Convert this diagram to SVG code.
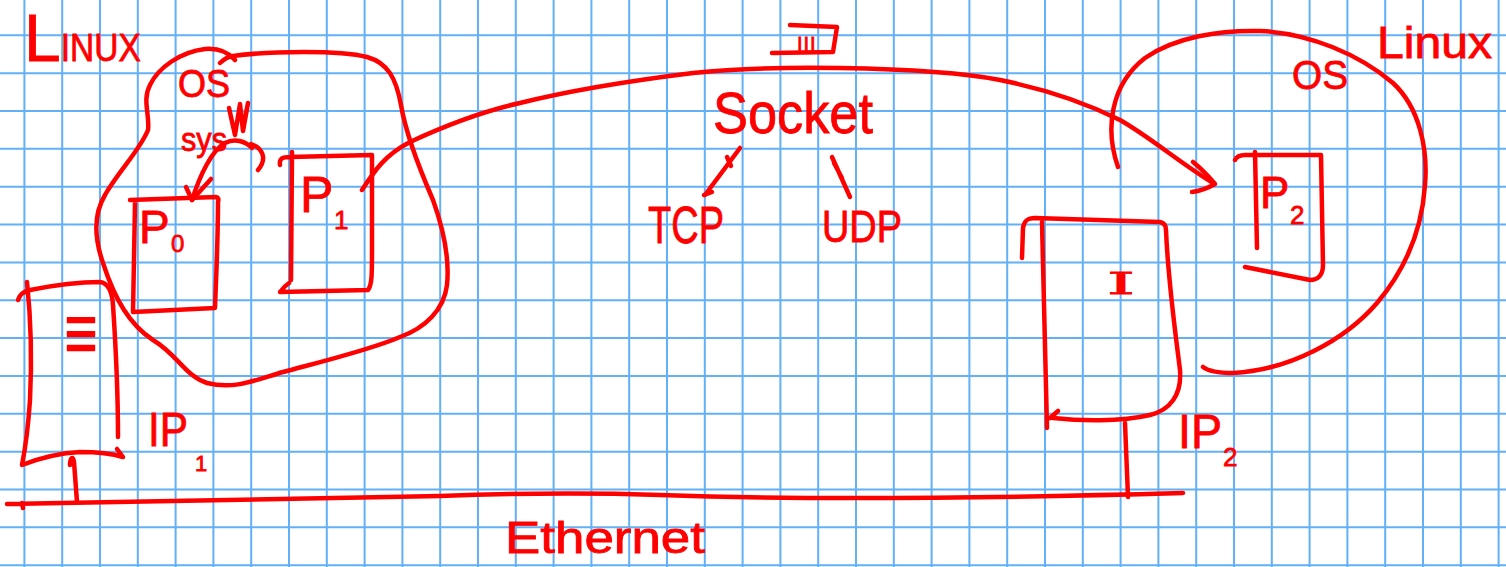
<svg xmlns="http://www.w3.org/2000/svg" width="1506" height="567" viewBox="0 0 1506 567">
<style>
.grid{stroke:#62b0f8;stroke-width:2;fill:none}
.ink{stroke:#ff0000;stroke-width:4.5;fill:none;stroke-linecap:round;stroke-linejoin:round}
.t{fill:#ff0000;stroke:#ff0000;stroke-width:0.8;font-family:"Liberation Sans",Arial,sans-serif}
</style>
<rect width="1506" height="567" fill="#ffffff"/>
<g id="grid">
<path class="grid" d="M24.4 0V567M62.2 0V567M100 0V567M137.8 0V567M175.6 0V567M213.4 0V567M251.2 0V567M289 0V567M326.8 0V567M364.6 0V567M402.4 0V567M440.2 0V567M478 0V567M515.8 0V567M553.6 0V567M591.4 0V567M629.2 0V567M667 0V567M704.8 0V567M742.6 0V567M780.4 0V567M818.2 0V567M856 0V567M893.8 0V567M931.6 0V567M969.4 0V567M1007.2 0V567M1045 0V567M1082.8 0V567M1120.6 0V567M1158.4 0V567M1196.2 0V567M1234 0V567M1271.8 0V567M1309.6 0V567M1347.4 0V567M1385.2 0V567M1423 0V567M1460.8 0V567M1498.6 0V567"/>
<path class="grid" d="M0 35.3H1506M0 73.15H1506M0 111H1506M0 148.85H1506M0 186.7H1506M0 224.55H1506M0 262.4H1506M0 300.25H1506M0 338.1H1506M0 375.95H1506M0 413.8H1506M0 451.65H1506M0 489.5H1506M0 527.35H1506M0 565.2H1506"/>
</g>

<g id="linux-left">
<text class="t" x="24" y="61"><tspan font-size="66">L</tspan><tspan font-size="38" textLength="80" lengthAdjust="spacingAndGlyphs">INUX</tspan></text>
</g>

<g id="os-left">
<path class="ink" d="M220,63 Q226,57 233,56 C270,51 340,50 367,57 C388,63 396,78 401,105 C406,135 420,170 433,200 C442,225 450,255 447,285 C444,310 425,328 400,337 C370,350 320,362 283,372 C255,380 235,390 207,383 C185,376 178,355 153,340 C130,325 115,300 103,263 C95,240 93,215 105,195 C118,172 140,150 148,130 C150,115 142,100 150,85 C158,68 180,52 205,49 C218,48 228,52 235,60"/>
<text class="t" x="178" y="97" font-size="38" textLength="52" lengthAdjust="spacingAndGlyphs">OS</text>
<text class="t" x="181" y="151" font-size="34" textLength="46" lengthAdjust="spacingAndGlyphs">sys</text>
<path class="ink" d="M229,108 L235,135 L240,104 L243,131 L248,103 L244,124"/>
</g>

<g id="p0">
<path class="ink" d="M130,200 L216,197 C218,197 219,199 218,202 C218,240 216,280 215,308 L133,312 M135,203 L133,312"/>
<text class="t" x="139" y="243" font-size="46">P</text>
<text class="t" x="171" y="252" font-size="24">0</text>
</g>

<g id="p1">
<path class="ink" d="M280,165 C279,158 283,157 290,157 L372,155 L372,248 C372,275 372,285 368,290 L280,292 C283,288 286,285 289,283 M292,152 L291,280"/>
<text class="t" x="300" y="212" font-size="50">P</text>
<text class="t" x="334" y="229" font-size="26">1</text>
</g>

<g id="host-left">
<path class="ink" d="M18,300 C20,294 23,292 30,290 C50,286 75,282 100,282 C108,283 112,290 113,305 C116,350 118,400 118,437"/>
<path class="ink" d="M27,282 C31,320 32,360 30,400 C28,430 25,450 22,465 C40,458 60,453 80,452 C95,452 110,453 123,457 L117,449"/>
<text class="t" x="62" y="358" font-size="76" textLength="38" lengthAdjust="spacingAndGlyphs" style="font-family:'DejaVu Sans',sans-serif;stroke-width:0">≡</text>
<text class="t" x="148" y="446" font-size="48" textLength="40" lengthAdjust="spacingAndGlyphs">IP</text>
<text class="t" x="195" y="471" font-size="22">1</text>
</g>

<g id="socket">
<text class="t" x="713" y="133" font-size="58" textLength="160" lengthAdjust="spacingAndGlyphs">Socket</text>
<path class="ink" d="M790,25 L837,27 L833,52 L772,53"/>
<text class="t" x="797" y="51" font-size="20" letter-spacing="1">III</text>
</g>

<g id="tcp">
<text class="t" x="648" y="243" font-size="52" textLength="76" lengthAdjust="spacingAndGlyphs">TCP</text>
</g>
<g id="udp">
<text class="t" x="822" y="242" font-size="44" textLength="80" lengthAdjust="spacingAndGlyphs">UDP</text>
</g>

<g id="os-right">
<path class="ink" d="M1118,167 C1105,130 1110,85 1145,58 C1175,37 1220,30 1260,31 C1310,33 1360,55 1393,83 C1420,108 1428,150 1425,185 C1422,230 1405,270 1377,303 C1345,340 1290,370 1233,373 C1220,373 1208,371 1203,367"/>
<text class="t" x="1292" y="89" font-size="40" textLength="56" lengthAdjust="spacingAndGlyphs">OS</text>
<text class="t" x="1377" y="58" font-size="44" textLength="115" lengthAdjust="spacingAndGlyphs">Linux</text>
</g>

<g id="p2">
<path class="ink" d="M1235,160 C1237,156 1240,155 1245,155 L1321,155 L1323,265 C1323,275 1318,280 1310,280 L1245,267 M1255,152 L1257,248"/>
<text class="t" x="1260" y="208" font-size="44">P</text>
<text class="t" x="1290" y="224" font-size="26">2</text>
</g>

<g id="host-right">
<path class="ink" d="M1022,258 L1023,228 C1024,221 1027,218 1035,218 L1160,222 C1165,223 1166,226 1166,230 C1168,280 1175,330 1180,370 C1182,395 1170,410 1150,415 C1120,422 1080,421 1053,418 M1058,411 L1050,418"/>
<path class="ink" d="M1042,222 L1047,428"/>
<text class="t" x="1107" y="294" font-size="30" textLength="28" lengthAdjust="spacingAndGlyphs" style="font-family:'DejaVu Serif',serif">I</text>
<text class="t" x="1178" y="448" font-size="48" textLength="44" lengthAdjust="spacingAndGlyphs">IP</text>
<text class="t" x="1223" y="466" font-size="26">2</text>
</g>

<g id="ethernet">
<text class="t" x="505" y="553" font-size="44" textLength="200" lengthAdjust="spacingAndGlyphs">Ethernet</text>
</g>

<g id="connectors">
<path class="ink" d="M192,200 C200,175 212,150 225,143 C235,138 245,141 252,148"/>
<path class="ink" d="M186,187 L192,200 L211,179"/>
<path class="ink" d="M251,144 C262,148 268,158 258,170"/>
<path class="ink" d="M362,190 C375,170 385,155 410,142 C440,128 480,112 520,103 C560,93 620,82 693,73 C730,69 780,67 840,68 C900,69 960,72 1000,80 C1050,90 1090,105 1120,120 C1150,137 1180,163 1213,183"/>
<path class="ink" d="M1193,162 C1203,170 1210,178 1215,184 C1208,188 1200,191 1192,192"/>
<path class="ink" d="M740,148 L705,195 M727,157 L731,166 M704,195 L712,192"/>
<path class="ink" d="M832,157 L850,197 M834,163 L842,178"/>
<path class="ink" d="M70,465 C70,458 73,455 74,462 L77,502"/>
<path class="ink" d="M1125,423 L1128,497"/>
<path class="ink" d="M7,504 C150,501 300,499 440,496 C520,493 600,493 660,495 C800,500 1000,498 1183,493 M22,503 L23,508"/>
</g>
</svg>
